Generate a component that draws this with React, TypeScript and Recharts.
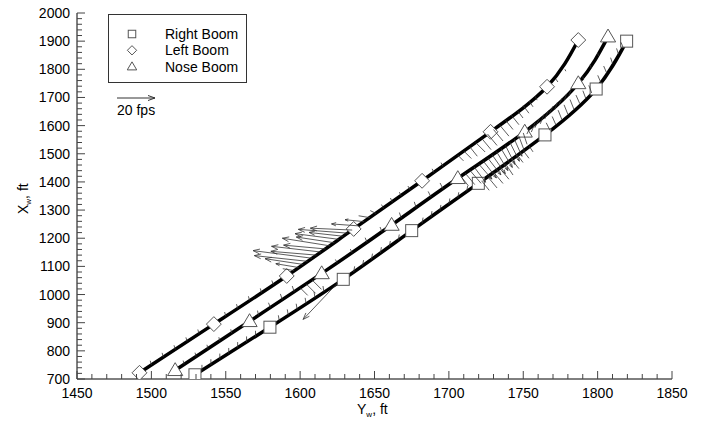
import React from "react";
import { ComposedChart, Line, Scatter, XAxis, YAxis } from "recharts";

// Boom trajectories: [Yw (ft), Xw (ft)] at the marker stations
const rightBoomPts: [number, number][] = [
  [1529.3, 715], [1579.7, 884], [1629, 1054], [1675, 1227],
  [1719.8, 1395], [1764.6, 1567], [1799, 1730], [1819.5, 1900],
];
const leftBoomPts: [number, number][] = [
  [1492, 722], [1542, 895], [1591, 1066], [1636, 1233],
  [1682, 1404], [1728, 1578], [1766, 1738], [1787, 1904],
];
const noseBoomPts: [number, number][] = [
  [1516, 731], [1566, 905], [1614.5, 1075], [1661.5, 1247],
  [1706, 1413], [1751, 1578], [1787, 1750], [1807, 1916],
];

// Velocity vectors along each track: [Yw, Xw, u (fps), v (fps)]
const leftBoomVecs: [number, number, number, number][] = [
  [1500, 750, -0.6, 2.2], [1508, 778, -0.6, 2.2], [1516, 805, -0.6, 2.2], [1524, 833, -0.6, 2.2],
  [1532, 861, -0.6, 2.2], [1550, 923, -0.6, 2.2], [1558, 951, -0.6, 2.2], [1566, 979, -0.6, 2.2],
  [1574, 1007, -0.6, 2.2], [1582, 1035, -0.8, 2.2],
  [1596, 1085, -6, 1], [1599, 1096, -12, 2], [1602, 1107, -20, 3], [1605, 1118, -28, 3],
  [1608, 1129, -31, 4], [1611, 1140, -24, 2], [1614, 1151, -26, 3], [1617, 1162, -22, 2],
  [1620, 1173, -25, 4], [1623, 1184, -20, 3], [1626, 1196, -23, 3], [1629, 1207, -18, 2],
  [1632, 1218, -26, 2], [1635, 1229, -22, 1], [1639, 1244, -14, 1], [1643, 1259, -10, 1],
  [1647, 1273, -6, 1], [1651, 1288, -3, 1.5],
  [1656, 1306, -1, 2], [1662, 1328, -1, 2.2], [1668, 1350, -1, 2], [1674, 1372, -1.2, 2],
  [1690, 1433, -1, 2], [1696, 1455, -1, 2],
  [1706, 1495, 3, -3], [1710, 1510, 4, -4], [1714, 1525, 4, -5], [1718, 1540, 5, -5],
  [1722, 1555, 5, -6], [1726, 1570, 5, -6], [1730, 1586, 5, -6], [1734, 1603, 5, -6],
  [1738, 1620, 4, -5], [1742, 1637, 4, -5], [1746, 1654, 3, -4], [1750, 1671, 3, -4],
  [1754, 1687, 2, -3], [1758, 1704, 1, -2], [1772, 1765, 1, -1.5], [1778, 1800, 0.5, -1],
];
const noseBoomVecs: [number, number, number, number][] = [
  [1522, 752, -0.5, 2], [1530, 780, -0.5, 2], [1538, 808, -0.5, 2], [1546, 835, -0.5, 2],
  [1554, 863, -0.5, 2], [1572, 926, -0.5, 2.5], [1580, 954, -1, 2.5], [1588, 982, -1, 3],
  [1596, 1010, -1, 3], [1600, 1024, 4, -4], [1604, 1038, 5, -5], [1608, 1052, 5, -5],
  [1625, 1111, -1, 2], [1635, 1148, -1, 2], [1645, 1185, -1, 2.5], [1655, 1223, -1, 2.5],
  [1668, 1271, -1, 3], [1678, 1309, -1, 3], [1688, 1346, -1.5, 3], [1696, 1376, -1.5, 3],
  [1708, 1420, 4, -5], [1711, 1431, 5, -6], [1714, 1442, 6, -7], [1717, 1453, 6, -8],
  [1720, 1464, 7, -8], [1723, 1475, 7, -9], [1726, 1486, 7, -9], [1729, 1497, 7, -10],
  [1732, 1508, 6, -10], [1735, 1519, 6, -10], [1738, 1530, 5, -10], [1741, 1541, 5, -10],
  [1744, 1552, 4, -9], [1747, 1563, 3, -8], [1750, 1574, 2, -6],
  [1755, 1597, -2, -4], [1758, 1611, -2, -5], [1761, 1626, -2.5, -5], [1764, 1640, -2, -5],
  [1767, 1654, -2, -4.5], [1770, 1669, -2, -4], [1773, 1683, -1.5, -4], [1776, 1697, -1.5, -3.5],
  [1779, 1712, -1, -3], [1782, 1726, -1, -3], [1790, 1775, 0.5, -2], [1795, 1817, 0.5, -2],
  [1800, 1858, 0.5, -1.5],
];
const rightBoomVecs: [number, number, number, number][] = [
  [1534, 730, 0, 3], [1540, 750, 0, 3], [1546, 770, 0, 3], [1552, 790, 0, 3],
  [1558, 811, 0, 3], [1564, 831, 0, 3], [1570, 851, 0, 3], [1586, 906, -0.5, 3],
  [1592, 927, -0.5, 3], [1598, 947, -0.5, 3], [1604, 968, -0.5, 3], [1610, 989, -0.5, 3],
  [1616, 1010, -0.5, 3], [1625, 1040, -18, -19],
  [1636, 1080, 0.5, 3], [1642, 1102, 0.5, 3], [1648, 1125, 0.5, 3], [1654, 1148, 0.5, 3],
  [1660, 1170, 0.5, 3], [1666, 1193, 0.5, 3], [1682, 1253, 0.5, 3], [1688, 1276, 0.5, 3],
  [1694, 1298, 0.5, 3], [1700, 1321, 0.5, 3], [1706, 1343, 0.5, 3], [1712, 1366, 0.5, 3],
  [1722, 1404, 4, -5], [1726, 1419, 5, -6], [1730, 1435, 5, -6], [1734, 1450, 5, -6],
  [1738, 1465, 4, -6], [1742, 1481, 4, -5], [1746, 1496, 3, -4], [1750, 1511, 3, -4],
  [1754, 1527, 2, -3],
  [1768, 1583, -2, 4], [1772, 1602, -2, 4.5], [1776, 1621, -2, 5], [1780, 1640, -2, 5],
  [1784, 1659, -2, 5], [1788, 1678, -2, 4.5], [1792, 1697, -1.5, 4], [1796, 1716, -1.5, 4],
  [1802, 1755, -1.5, 3.5], [1806, 1788, -1.5, 3.5], [1810, 1821, -1, 3], [1814, 1854, -1, 3],
  [1817, 1879, -1, 2.5],
];

const xMajorTicks = [1450, 1500, 1550, 1600, 1650, 1700, 1750, 1800, 1850];
const yMajorTicks = [700, 800, 900, 1000, 1100, 1200, 1300, 1400, 1500, 1600, 1700, 1800, 1900, 2000];
const xMinorStep = 10;
const yMinorStep = 20;
const legendLabels = ["Right Boom", "Left Boom", "Nose Boom"];
const refSpeed = 20; // fps

const FONT = "'Liberation Sans', Arial, Helvetica, sans-serif";
const FPS_PX = 38 / refSpeed; // pixels per fps for vector arrows

const withMinors = (majors: number[], step: number) => {
  const out: number[] = [];
  for (let v = majors[0]; v <= majors[majors.length - 1]; v += step) out.push(v);
  return out;
};
const xTicks = withMinors(xMajorTicks, xMinorStep);
const yTicks = withMinors(yMajorTicks, yMinorStep);

const toPts = (pts: [number, number][]) => pts.map(([yw, xw]) => ({ yw, xw }));
const toVecs = (vs: [number, number, number, number][]) =>
  vs.map(([yw, xw, u, v]) => ({ yw, xw, u, v }));

type Kind = "square" | "diamond" | "triangle";

const MarkerShape = ({ cx, cy, kind, s }: { cx: number; cy: number; kind: Kind; s: number }) => {
  const stroke = "#555";
  if (kind === "square")
    return <rect x={cx - s / 2} y={cy - s / 2} width={s} height={s} fill="#fff" stroke={stroke} strokeWidth={1} />;
  if (kind === "diamond") {
    const h = s * 0.62;
    return (
      <path d={`M${cx},${cy - h}L${cx + h},${cy}L${cx},${cy + h}L${cx - h},${cy}Z`} fill="#fff" stroke={stroke} strokeWidth={1} />
    );
  }
  const h = s * 0.55;
  return (
    <path
      d={`M${cx},${cy - h * 1.15}L${cx + h * 1.15},${cy + h * 0.8}L${cx - h * 1.15},${cy + h * 0.8}Z`}
      fill="#fff"
      stroke={stroke}
      strokeWidth={1}
    />
  );
};

const makeDot = (kind: Kind) => (props: any) => {
  const { cx, cy, index } = props;
  if (cx == null || cy == null) return <g key={`d${index}`} />;
  return (
    <g key={`${kind}-${index}`}>
      <MarkerShape cx={cx} cy={cy} kind={kind} s={12} />
    </g>
  );
};

const VectorGlyph = (props: any) => {
  const { cx, cy, payload } = props;
  if (cx == null || cy == null || !payload) return <g />;
  const dx = payload.u * FPS_PX;
  const dy = -payload.v * FPS_PX;
  const len = Math.hypot(dx, dy);
  const x2 = cx + dx;
  const y2 = cy + dy;
  const a = Math.atan2(dy, dx);
  const h = len > 18 ? Math.min(7, len * 0.18) : 0;
  const w = 0.35;
  const d =
    `M${cx},${cy}L${x2},${y2}` +
    (h > 0
      ? `M${x2 - h * Math.cos(a - w)},${y2 - h * Math.sin(a - w)}L${x2},${y2}L${x2 - h * Math.cos(a + w)},${y2 - h * Math.sin(a + w)}`
      : "");
  return <path d={d} fill="none" stroke="#333" strokeWidth={0.8} />;
};

const XTick = (props: any) => {
  const { x, y, payload } = props;
  const v = payload.value;
  const major = v % 50 === 0;
  return (
    <g>
      <line x1={x} x2={x} y1={y} y2={y - (major ? 8 : 5)} stroke="#444" strokeWidth={1} />
      {major && (
        <text x={x} y={y + 19} textAnchor="middle" fontSize={14} fontFamily={FONT} fill="#000">
          {v}
        </text>
      )}
    </g>
  );
};

const YTick = (props: any) => {
  const { x, y, payload } = props;
  const v = payload.value;
  const major = v % 100 === 0;
  return (
    <g>
      <line x1={x} x2={x + (major ? 8 : 5)} y1={y} y2={y} stroke="#444" strokeWidth={1} />
      {major && (
        <text x={x - 7} y={y + 5} textAnchor="end" fontSize={14} fontFamily={FONT} fill="#000">
          {v}
        </text>
      )}
    </g>
  );
};

const kinds: Kind[] = ["square", "diamond", "triangle"];

export default function App() {
  return (
    <div style={{ position: "absolute", left: 0, top: 0, width: 704, height: 421, background: "#fff" }}>
      <ComposedChart
        width={704}
        height={421}
        margin={{ top: 13, right: 32, left: 0, bottom: 0 }}
      >
        <XAxis
          type="number"
          dataKey="yw"
          domain={[1450, 1850]}
          allowDataOverflow
          ticks={xTicks}
          interval={0}
          height={42}
          tickSize={0}
          tickMargin={0}
          tickLine={false}
          tick={<XTick />}
          axisLine={{ stroke: "#000", strokeWidth: 1 }}
        />
        <YAxis
          type="number"
          dataKey="xw"
          domain={[700, 2000]}
          allowDataOverflow
          ticks={yTicks}
          interval={0}
          width={77}
          tickSize={0}
          tickMargin={0}
          tickLine={false}
          tick={<YTick />}
          axisLine={{ stroke: "#000", strokeWidth: 1 }}
        />
        <Line data={toPts(rightBoomPts)} dataKey="xw" type="natural" stroke="#000" strokeWidth={3.5}
          dot={makeDot("square")} activeDot={false} isAnimationActive={false} />
        <Line data={toPts(leftBoomPts)} dataKey="xw" type="natural" stroke="#000" strokeWidth={3.5}
          dot={makeDot("diamond")} activeDot={false} isAnimationActive={false} />
        <Line data={toPts(noseBoomPts)} dataKey="xw" type="natural" stroke="#000" strokeWidth={3.5}
          dot={makeDot("triangle")} activeDot={false} isAnimationActive={false} />
        <Scatter data={toVecs(leftBoomVecs)} dataKey="xw" shape={VectorGlyph} isAnimationActive={false} />
        <Scatter data={toVecs(noseBoomVecs)} dataKey="xw" shape={VectorGlyph} isAnimationActive={false} />
        <Scatter data={toVecs(rightBoomVecs)} dataKey="xw" shape={VectorGlyph} isAnimationActive={false} />
      </ComposedChart>
      <svg width={704} height={421} style={{ position: "absolute", left: 0, top: 0, pointerEvents: "none" }}>
        {/* legend */}
        <rect x={108.5} y={14.5} width={138} height={68} fill="#fff" stroke="#333" strokeWidth={1} />
        {legendLabels.map((label, i) => (
          <g key={label}>
            <MarkerShape cx={132} cy={34 + i * 16.3} kind={kinds[i]} s={7.5} />
            <text x={165} y={39 + i * 16.3} fontSize={14} fontFamily={FONT} fill="#000">
              {label}
            </text>
          </g>
        ))}
        {/* reference vector */}
        <path
          d={`M117,98L${117 + refSpeed * FPS_PX},98M${117 + refSpeed * FPS_PX - 7},95.5L${117 + refSpeed * FPS_PX},98L${117 + refSpeed * FPS_PX - 7},100.5`}
          fill="none"
          stroke="#333"
          strokeWidth={1}
        />
        <text x={117} y={115} fontSize={14} fontFamily={FONT} fill="#000">
          {`${refSpeed} fps`}
        </text>
        {/* axis titles */}
        <text x={357} y={414} fontSize={14} fontFamily={FONT} fill="#000">
          Y<tspan fontSize={8} dy={3}>w</tspan>
          <tspan dy={-3}>, ft</tspan>
        </text>
        <text transform="translate(28,214) rotate(-90)" fontSize={14} fontFamily={FONT} fill="#000">
          X<tspan fontSize={8} dy={3}>w</tspan>
          <tspan dy={-3}>, ft</tspan>
        </text>
      </svg>
    </div>
  );
}
